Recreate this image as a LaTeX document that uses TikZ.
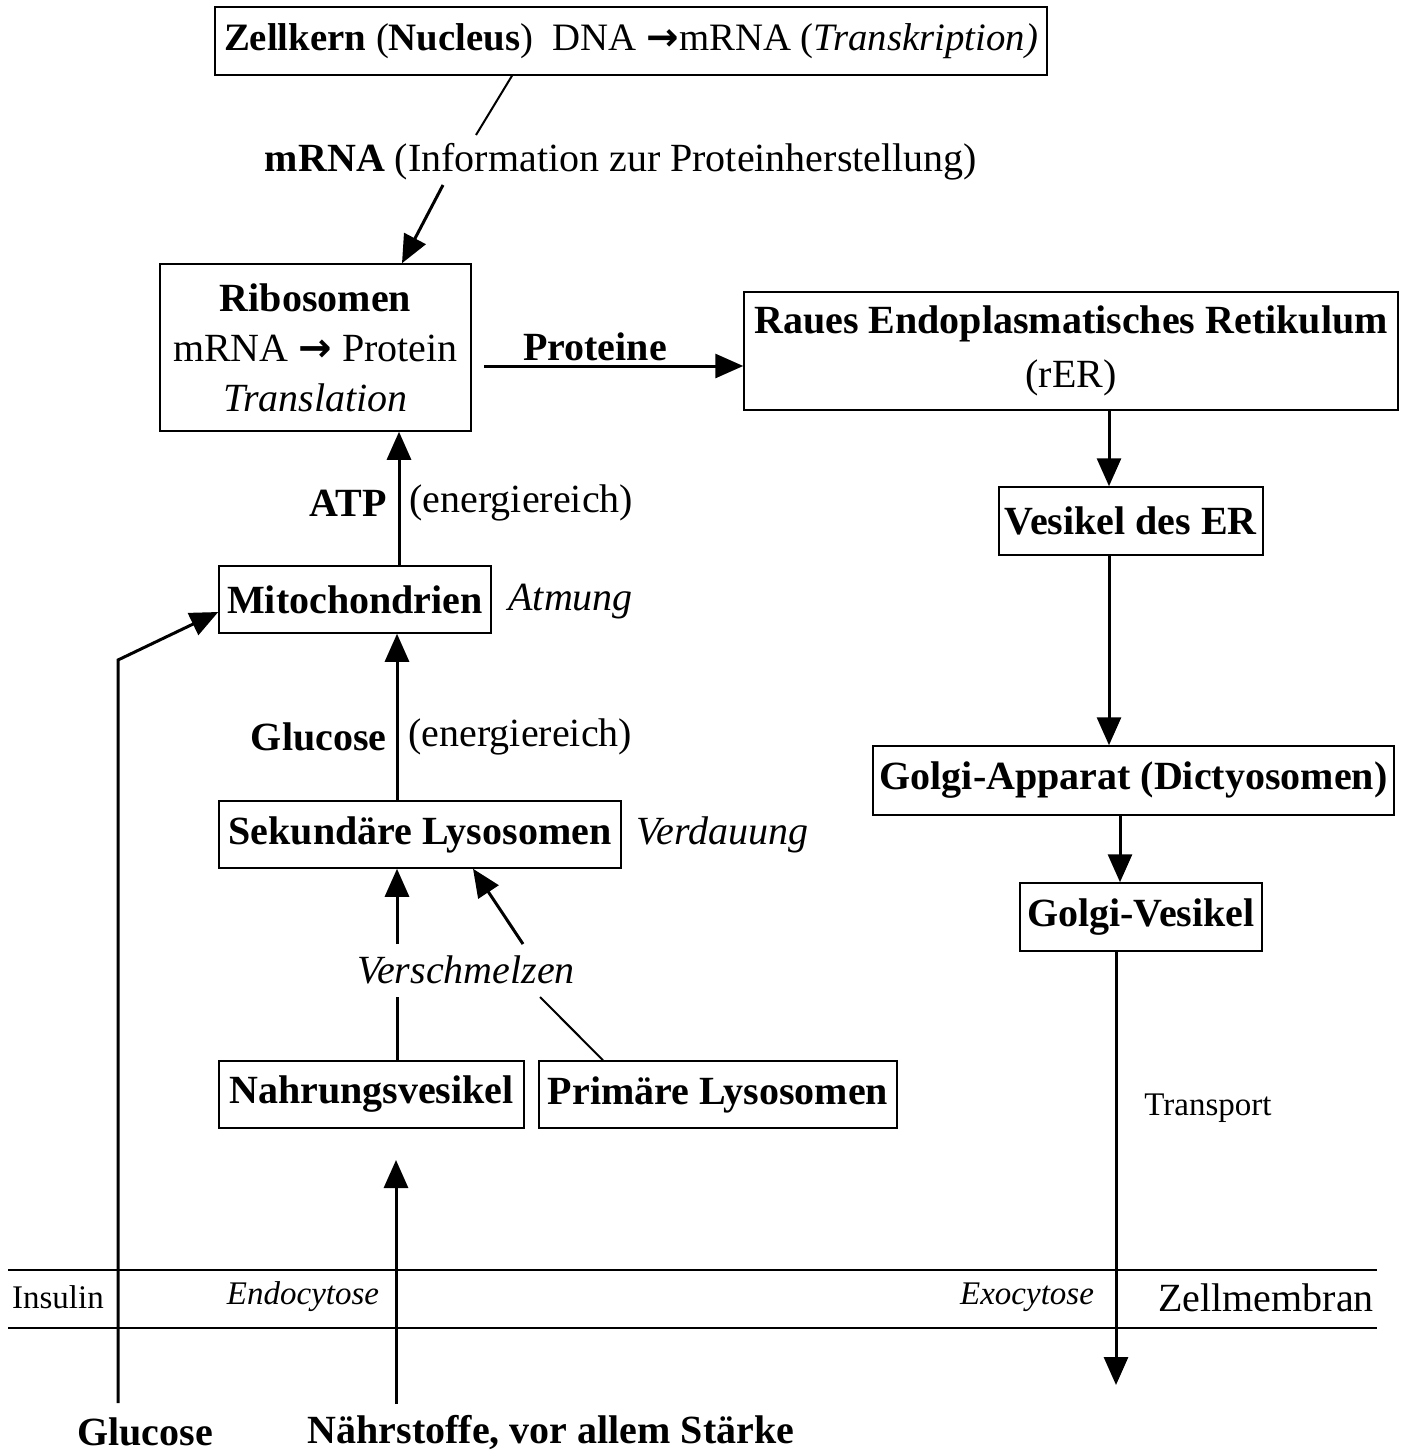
\documentclass[tikz,border=0pt]{standalone}
\usepackage{fontspec}
\setmainfont{Liberation Serif}
\newfontfamily\arrowfont{DejaVu Sans}
\newcommand{\rarr}{{\arrowfont\bfseries →}}
\usetikzlibrary{arrows.meta}
\begin{document}
\begin{tikzpicture}[x=1pt,y=-1pt,
 box/.style={draw,line width=1.5pt,inner sep=0pt,align=center},
 conn/.style={line width=3pt},
 arr/.style={conn,-{Triangle[length=28pt,width=24pt]}},
 memb/.style={line width=2.5pt},
 big/.style={font=\fontsize{40}{50}\selectfont},
 small/.style={font=\fontsize{33}{40}\selectfont}]
\useasboundingbox[fill=white] (0,0) rectangle (1404,1456);

% boxes
\node[box,font=\fontsize{38.8}{50}\selectfont,minimum width=832pt,minimum height=68pt] (nucleus) at (631,41)
  {\textbf{Zellkern} (\textbf{Nucleus})\ \ DNA \rarr{}mRNA (\textit{Transkription)}};
\node[box,big,minimum width=311pt,minimum height=167pt] (ribo) at (315.5,347.5)
  {\textbf{Ribosomen}\\mRNA \rarr{} Protein\\\textit{Translation}};
\node[box,big,minimum width=654pt,minimum height=118pt,font=\fontsize{40}{54}\selectfont] (rer) at (1071,351)
  {\textbf{Raues Endoplasmatisches Retikulum}\\(rER)};
\node[box,big,minimum width=264pt,minimum height=68pt] (ves) at (1131,521) {\textbf{Vesikel des ER}};
\node[box,big,minimum width=521pt,minimum height=69pt] (golgi) at (1133.5,780.5) {\textbf{Golgi-Apparat (Dictyosomen)}};
\node[box,big,minimum width=242pt,minimum height=68pt] (gves) at (1141,917) {\textbf{Golgi-Vesikel}};
\node[box,big,minimum width=272pt,minimum height=67pt] (mito) at (355,599.5) {\textbf{Mitochondrien}};
\node[box,big,minimum width=402pt,minimum height=67pt] (sek) at (420,834.5) {\textbf{Sekundäre Lysosomen}};
\node[box,big,minimum width=305pt,minimum height=67pt] (nahr) at (371.5,1094.5) {\textbf{Nahrungsvesikel}};
\node[box,big,minimum width=358pt,minimum height=67pt] (prim) at (718,1094.5) {\textbf{Primäre Lysosomen}};

% text labels
\node[big] (mlab) at (621,162) {\textbf{mRNA} (Information zur Proteinherstellung)};
\node[big] (prot) at (595,347) {\textbf{Proteine}};
\node[big,anchor=east] (atp) at (390,503) {\textbf{ATP}};
\node[big,anchor=west] (en1) at (406,503) {(energiereich)};
\node[big,anchor=west] (atm) at (505,602) {\textit{Atmung}};
\node[big,anchor=east] (glu) at (390,737) {\textbf{Glucose}};
\node[big,anchor=west] (en2) at (405,737) {(energiereich)};
\node[big,anchor=west] (verd) at (633,835) {\textit{Verdauung}};
\node[big] (versch) at (466,970) {\textit{Verschmelzen}};
\node[small] (trans) at (1208,1108) {Transport};
\node[small] (ins) at (58,1297) {Insulin};
\node[small,font=\fontsize{33}{40}\selectfont\itshape] (endo) at (303,1297) {Endocytose};
\node[small,font=\fontsize{33}{40}\selectfont\itshape] (exo) at (1027,1297) {Exocytose};
\node[big] (zm) at (1266,1298) {Zellmembran};
\node[big] (gluIn) at (145,1432) {\textbf{Glucose}};
\node[big] (naehr) at (551,1432) {\textbf{Nährstoffe, vor allem Stärke}};

% membrane
\coordinate (mA1) at (8,1270); \coordinate (mA2) at (1377,1270);
\coordinate (mB1) at (8,1328); \coordinate (mB2) at (1377,1328);
\draw[memb] (mA1) -- (mA2);
\draw[memb] (mB1) -- (mB2);

% connectors
\draw[line width=2pt] (nucleus.south -| 512,0) -- (476,135);
\draw[arr] (443,185) -- (ribo.north -| 402,0);
\draw[arr] (484,366) -- (rer.west |- 0,366);
\draw[arr] (rer.south -| 1109,0) -- (ves.north -| 1109,0);
\draw[arr] (ves.south -| 1109,0) -- (golgi.north -| 1109,0);
\draw[arr] (golgi.south -| 1120,0) -- (gves.north -| 1120,0);
\coordinate (out) at (1116,1385);
\draw[arr] (gves.south -| 1116,0) -- (out);
\draw[arr] (mito.north -| 399,0) -- (ribo.south -| 399,0);
\draw[arr] (sek.north -| 397,0) -- (mito.south -| 397,0);
\draw[conn] (nahr.north -| 397,0) -- (397,997);
\draw[arr] (397,944) -- (sek.south -| 397,0);
\draw[line width=2pt] (prim.north -| 603,0) -- (540,997);
\draw[arr] (523,944) -- (sek.south -| 473,0);
\coordinate (g0) at (118,1403);
\draw[arr] (g0) -- (118,660) -- (mito.west |- 0,612);
\coordinate (n0) at (396,1404);
\coordinate (n1) at (396,1160);
\draw[arr] (n0) -- (n1);
\end{tikzpicture}
\end{document}
